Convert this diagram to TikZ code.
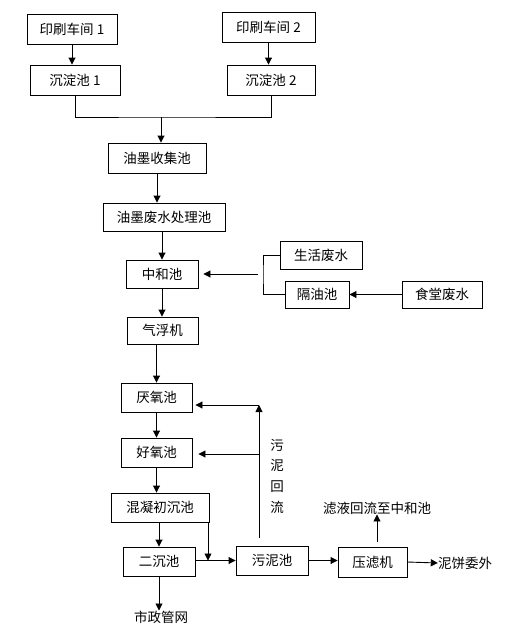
\documentclass[tikz,border=0pt]{standalone}
\usepackage{fontspec}
\newfontfamily\cjk{Noto Sans CJK SC}
\usetikzlibrary{arrows.meta}

\begin{document}
\begin{tikzpicture}[x=1pt,y=-1pt,tank/.style={draw,line width=0.9pt,fill=white,inner sep=0pt,font=\cjk\fontsize{13.5}{16}\selectfont},lbl/.style={inner sep=0pt,font=\cjk\fontsize{13.5}{20.7}\selectfont},flow/.style={line width=0.9pt,-{Triangle[length=7pt,width=7pt]}},pipe/.style={line width=0.9pt}]
\useasboundingbox (0,0) rectangle (526,635);
\node[tank,minimum width=90pt,minimum height=30pt] (p1) at (72,29) {印刷车间 1};
\node[tank,minimum width=93pt,minimum height=30pt] (p2) at (268.5,27) {印刷车间 2};
\node[tank,minimum width=90pt,minimum height=30pt] (s1) at (75,80) {沉淀池 1};
\node[tank,minimum width=88pt,minimum height=30pt] (s2) at (271,80) {沉淀池 2};
\node[tank,minimum width=98pt,minimum height=30pt] (ym) at (157,158) {油墨收集池};
\node[tank,minimum width=122pt,minimum height=28pt] (yf) at (164,217) {油墨废水处理池};
\node[tank,minimum width=72pt,minimum height=28pt] (zh) at (162,274) {中和池};
\node[tank,minimum width=71pt,minimum height=27pt] (qf) at (162.5,330.5) {气浮机};
\node[tank,minimum width=82pt,minimum height=28pt] (sh) at (321,255) {生活废水};
\node[tank,minimum width=64pt,minimum height=27pt] (gy) at (317,294.5) {隔油池};
\node[tank,minimum width=80pt,minimum height=27pt] (st) at (442,294.5) {食堂废水};
\node[tank,minimum width=71pt,minimum height=29pt] (yy) at (156.5,397.5) {厌氧池};
\node[tank,minimum width=71pt,minimum height=29pt] (hy) at (156.5,452.5) {好氧池};
\node[tank,minimum width=98pt,minimum height=29pt] (hn) at (160,507.5) {混凝初沉池};
\node[tank,minimum width=72pt,minimum height=29pt] (ec) at (159,561.5) {二沉池};
\node[tank,minimum width=72pt,minimum height=29pt] (wn) at (272,560.5) {污泥池};
\node[tank,minimum width=69pt,minimum height=30pt] (yl) at (372.5,562) {压滤机};
\node[lbl] (nb) at (465,563) {泥饼委外};
\node[lbl] (sz) at (161,617) {市政管网};
\node[lbl] (ly) at (377,508) {滤液回流至中和池};
\node[lbl,align=center] (wh) at (277,476) {污\\泥\\回\\流};
% workshops to collection
\coordinate (j) at (161,117);
\draw[flow] (p1.south) -- (p1.south |- s1.north);
\draw[flow] (p2.south) -- (p2.south |- s2.north);
\draw[pipe] (s1.south) |- (j) -| (s2.south);
\draw[flow] (j) -- (j |- ym.north);
\draw[flow] (ym.south) -- (ym.south |- yf.north);
\draw[flow] (yf.south -| zh.north) -- (zh.north);
\draw[flow] (zh.south) -- (zh.south |- qf.north);
% side inflows
\coordinate (bk) at (263,274);
\draw[pipe] (sh.west) -| (bk) |- (gy.west);
\draw[flow,shorten >=5pt] ([xshift=-5pt]bk) -- (bk -| zh.east);
\draw[flow] (st.west) -- (st.west -| gy.east);
% biological treatment
\draw[flow] (qf.south -| yy.north) -- (yy.north);
\draw[flow] (yy.south) -- (yy.south |- hy.north);
\draw[flow] (hy.south) -- (hy.south |- hn.north);
\draw[flow] (hn.south -| ec.north) -- (ec.north);
\draw[flow] (ec.south) -- (ec.south |- sz.north);
\coordinate (m) at (208,560.5);
\draw[flow] (hn.south -| m) -- (m);
\draw[flow] (ec.east |- m) -- (m -| wn.west);
% sludge return
\coordinate (rt) at (259,405);
\coordinate (rh) at (259,454);
\draw[flow,shorten <=8pt] (wn.north -| rt) -- (rt);
\draw[flow,shorten >=3pt] (rt) -- (rt -| yy.east);
\draw[flow,shorten >=6pt] (rh) -- (rh -| hy.east);
% sludge dewatering
\draw[flow] (wn.east) -- (wn.east -| yl.west);
\draw[flow,shorten <=5pt] (yl.north -| ly.south) -- (ly.south);
\draw[flow] (yl.east) -- (nb.west);
\end{tikzpicture}
\end{document}
